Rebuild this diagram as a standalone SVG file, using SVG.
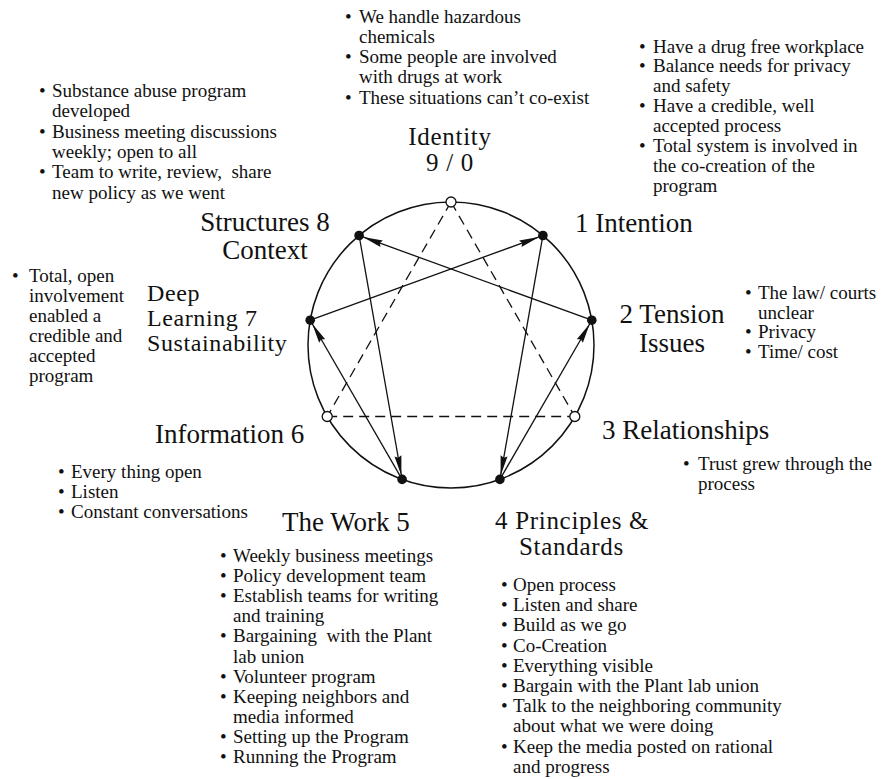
<svg xmlns="http://www.w3.org/2000/svg" width="891" height="779" viewBox="0 0 891 779">
<style>
text{font-family:"Liberation Serif","Times New Roman",serif;fill:#111}
.h{font-size:27px}
.h25{font-size:25px;letter-spacing:0.7px}
.h24{font-size:24px;letter-spacing:0.6px}
.b{font-size:19px}
.m{text-anchor:middle}
.ring{fill:none;stroke:#111;stroke-width:1.5}
.sol{fill:none;stroke:#111;stroke-width:1.3}
.dash{fill:none;stroke:#111;stroke-width:1.3;stroke-dasharray:10 6}
.dot{fill:#111}
.open{fill:#fff;stroke:#111;stroke-width:1.3}
</style>
<defs>
<marker id="ah" markerUnits="userSpaceOnUse" markerWidth="21" markerHeight="9" refX="20" refY="4" orient="auto" viewBox="0 0 21 9">
<path d="M0,0.5 L20,4 L0,7.5 L2,4 z" fill="#111"/>
</marker>
</defs>
<rect width="891" height="779" fill="#fff"/>
<circle class="ring" cx="451" cy="345" r="143"/>
<g id="connectors">
<line class="dash" x1="451" y1="202" x2="574.8" y2="416.5"/>
<line class="dash" x1="451" y1="202" x2="327.2" y2="416.5"/>
<line class="dash" x1="327.2" y1="416.5" x2="574.8" y2="416.5"/>
<line class="sol" x1="359.1" y1="235.5" x2="401.4" y2="475.5" marker-end="url(#ah)"/>
<line class="sol" x1="402.1" y1="479.4" x2="312.2" y2="323.7" marker-end="url(#ah)"/>
<line class="sol" x1="310.2" y1="320.2" x2="539.1" y2="236.9" marker-end="url(#ah)"/>
<line class="sol" x1="542.9" y1="235.5" x2="500.6" y2="475.5" marker-end="url(#ah)"/>
<line class="sol" x1="499.9" y1="479.4" x2="589.8" y2="323.7" marker-end="url(#ah)"/>
<line class="sol" x1="591.8" y1="320.2" x2="362.9" y2="236.9" marker-end="url(#ah)"/>
</g>
<g id="node-9">
<circle class="open" cx="451" cy="202" r="5"/>
<text class="h25 m" x="450" y="145">Identity</text>
<text class="h25 m" x="450" y="171">9 / 0</text>
<g class="b">
<text x="345" y="22.5">•</text><text x="359" y="22.5">We handle hazardous</text>
<text x="359" y="42.8">chemicals</text>
<text x="345" y="63.1">•</text><text x="359" y="63.1">Some people are involved</text>
<text x="359" y="83.4">with drugs at work</text>
<text x="345" y="103.7">•</text><text x="359" y="103.7">These situations can’t co-exist</text>
</g>
</g>
<g id="node-1">
<circle class="dot" cx="542.9" cy="235.5" r="4.8"/>
<text class="h" x="575" y="232">1 Intention</text>
<g class="b">
<text x="639" y="52.5">•</text><text x="653" y="52.5">Have a drug free workplace</text>
<text x="639" y="72.4">•</text><text x="653" y="72.4">Balance needs for privacy</text>
<text x="653" y="92.3">and safety</text>
<text x="639" y="112.2">•</text><text x="653" y="112.2">Have a credible, well</text>
<text x="653" y="132.1">accepted process</text>
<text x="639" y="152">•</text><text x="653" y="152">Total system is involved in</text>
<text x="653" y="171.9">the co-creation of the</text>
<text x="653" y="191.8">program</text>
</g>
</g>
<g id="node-2">
<circle class="dot" cx="591.8" cy="320.2" r="4.8"/>
<text class="h m" x="672" y="323">2 Tension</text>
<text class="h m" x="672" y="352">Issues</text>
<g class="b">
<text x="745" y="299">•</text><text x="758" y="299">The law/ courts</text>
<text x="758" y="318.5">unclear</text>
<text x="745" y="338">•</text><text x="758" y="338">Privacy</text>
<text x="745" y="357.5">•</text><text x="758" y="357.5">Time/ cost</text>
</g>
</g>
<g id="node-3">
<circle class="open" cx="574.8" cy="416.5" r="5"/>
<text class="h" x="602" y="439">3 Relationships</text>
<g class="b">
<text x="683" y="470">•</text><text x="698" y="470">Trust grew through the</text>
<text x="698" y="490">process</text>
</g>
</g>
<g id="node-4">
<circle class="dot" cx="499.9" cy="479.4" r="4.8"/>
<text class="h25" x="495" y="529">4 Principles &amp;</text>
<text class="h25" x="519" y="555">Standards</text>
<g class="b">
<text x="501" y="591">•</text><text x="513" y="591">Open process</text>
<text x="501" y="611.2">•</text><text x="513" y="611.2">Listen and share</text>
<text x="501" y="631.4">•</text><text x="513" y="631.4">Build as we go</text>
<text x="501" y="651.6">•</text><text x="513" y="651.6">Co-Creation</text>
<text x="501" y="671.8">•</text><text x="513" y="671.8">Everything visible</text>
<text x="501" y="692">•</text><text x="513" y="692">Bargain with the Plant lab union</text>
<text x="501" y="712.2">•</text><text x="513" y="712.2">Talk to the neighboring community</text>
<text x="513" y="732.4">about what we were doing</text>
<text x="501" y="752.6">•</text><text x="513" y="752.6">Keep the media posted on rational</text>
<text x="513" y="772.8">and progress</text>
</g>
</g>
<g id="node-5">
<circle class="dot" cx="402.1" cy="479.4" r="4.8"/>
<text class="h" x="282" y="531">The Work 5</text>
<g class="b">
<text x="220" y="562">•</text><text x="233" y="562">Weekly business meetings</text>
<text x="220" y="582.1">•</text><text x="233" y="582.1">Policy development team</text>
<text x="220" y="602.2">•</text><text x="233" y="602.2">Establish teams for writing</text>
<text x="233" y="622.3">and training</text>
<text x="220" y="642.4">•</text><text x="233" y="642.4" xml:space="preserve">Bargaining  with the Plant</text>
<text x="233" y="662.5">lab union</text>
<text x="220" y="682.6">•</text><text x="233" y="682.6">Volunteer program</text>
<text x="220" y="702.7">•</text><text x="233" y="702.7">Keeping neighbors and</text>
<text x="233" y="722.8">media informed</text>
<text x="220" y="742.9">•</text><text x="233" y="742.9">Setting up the Program</text>
<text x="220" y="763">•</text><text x="233" y="763">Running the Program</text>
</g>
</g>
<g id="node-6">
<circle class="open" cx="327.2" cy="416.5" r="5"/>
<text class="h" x="155" y="443">Information 6</text>
<g class="b">
<text x="58" y="478">•</text><text x="71" y="478">Every thing open</text>
<text x="58" y="498">•</text><text x="71" y="498">Listen</text>
<text x="58" y="518">•</text><text x="71" y="518">Constant conversations</text>
</g>
</g>
<g id="node-7">
<circle class="dot" cx="310.2" cy="320.2" r="4.8"/>
<text class="h24" x="147" y="300.5">Deep</text>
<text class="h24" x="147" y="325.5">Learning 7</text>
<text class="h24" x="147" y="350.5">Sustainability</text>
<g class="b">
<text x="12" y="282">•</text><text x="29" y="282">Total, open</text>
<text x="29" y="302">involvement</text>
<text x="29" y="322">enabled a</text>
<text x="29" y="342">credible and</text>
<text x="29" y="362">accepted</text>
<text x="29" y="382">program</text>
</g>
</g>
<g id="node-8">
<circle class="dot" cx="359.1" cy="235.5" r="4.8"/>
<text class="h m" x="265" y="231">Structures 8</text>
<text class="h m" x="265" y="259">Context</text>
<g class="b">
<text x="39" y="97">•</text><text x="52" y="97">Substance abuse program</text>
<text x="52" y="117.3">developed</text>
<text x="39" y="137.6">•</text><text x="52" y="137.6">Business meeting discussions</text>
<text x="52" y="157.9">weekly; open to all</text>
<text x="39" y="178.2">•</text><text x="52" y="178.2" xml:space="preserve">Team to write, review,  share</text>
<text x="52" y="198.5">new policy as we went</text>
</g>
</g>
</svg>
